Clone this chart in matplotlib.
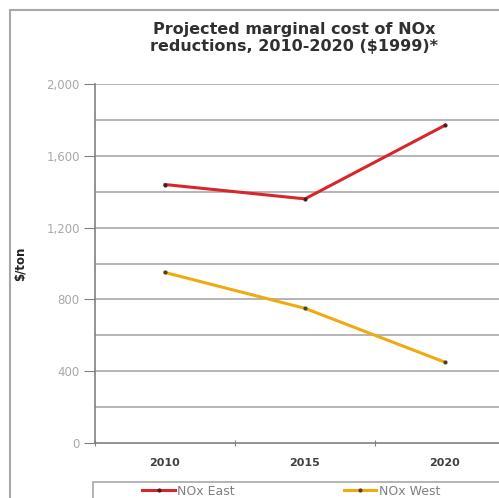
import numpy as np
import matplotlib
matplotlib.use('Agg')
import matplotlib.pyplot as plt
from matplotlib.patches import Rectangle

years = ['2010', '2015', '2020']
nox_east = [1440, 1360, 1770]
nox_west = [950, 750, 450]
y_ticks = [0, 400, 800, 1200, 1600, 2000]
y_labels = ['0', '400', '800', '1,200', '1,600', '2,000']

plt.rcParams['font.family'] = ['DejaVu Sans']

fig = plt.figure(figsize=(4.99, 4.98), dpi=100)
fig.patch.set_facecolor('white')

# outer chart frame (cropped at right/bottom)
fig.patches.append(Rectangle((10 / 499, -0.1), 1.2, (498 - 10) / 498 + 0.1,
                             transform=fig.transFigure, fill=False,
                             ec='#a8a8a8', lw=1.5))

ax = fig.add_axes([95 / 499, 55 / 498, 420 / 499, 359 / 498])
x = np.arange(len(years))
ax.plot(x, nox_east, color='#d8262a', lw=2.2, marker='o', ms=2,
        mfc='#402020', mec='#402020', label='NOx East', clip_on=False)
ax.plot(x, nox_west, color='#f0aa10', lw=2.2, marker='o', ms=2,
        mfc='#504020', mec='#504020', label='NOx West', clip_on=False)

ax.set_xlim(-0.5, 2.5)
ax.set_ylim(0, 2000)
for v in range(200, 2001, 200):
    ax.axhline(v, color='#a8a8a8', lw=1.2, zorder=0)

ax.set_yticks(y_ticks)
ax.set_yticklabels(y_labels, fontsize=8.5, color='#a8a8a8')
ax.set_xticks([-0.5, 0.5, 1.5])
ax.set_xticklabels([])
ax.set_xticks(x, minor=True)
ax.set_xticklabels(years, minor=True, fontsize=8, fontweight='bold', color='#404040')
ax.tick_params(axis='x', which='major', direction='inout', length=5, color='#808080')
ax.tick_params(axis='x', which='minor', length=0, pad=11)
ax.tick_params(axis='y', direction='out', length=8, color='#808080', pad=3)

for s in ['top', 'right']:
    ax.spines[s].set_visible(False)
ax.spines['left'].set_color('#808080')
ax.spines['bottom'].set_color('#808080')
ax.spines['left'].set_linewidth(1.2)
ax.spines['bottom'].set_linewidth(1.2)

ax.set_ylabel('$/ton', fontsize=8.5, fontweight='bold', color='#202020', labelpad=14)

fig.text(294 / 499, 1 - 38 / 498,
         'Projected marginal cost of NOx\nreductions, 2010-2020 ($1999)*',
         ha='center', va='center', fontsize=11.5, fontweight='bold',
         color='#303030', linespacing=1.15)

# legend frame (cropped)
fig.patches.append(Rectangle((93 / 499, -0.1), 1.2, (498 - 482) / 498 + 0.1,
                             transform=fig.transFigure, fill=False,
                             ec='#a8a8a8', lw=1.2))
fig.legend(loc='center left', bbox_to_anchor=(136 / 499, 1 - 491 / 498),
           ncol=2, frameon=False, fontsize=9, handlelength=2.6,
           columnspacing=8.7, handletextpad=0.2, labelcolor='#808080',
           borderpad=0)

fig.savefig('out.png', dpi=100)
